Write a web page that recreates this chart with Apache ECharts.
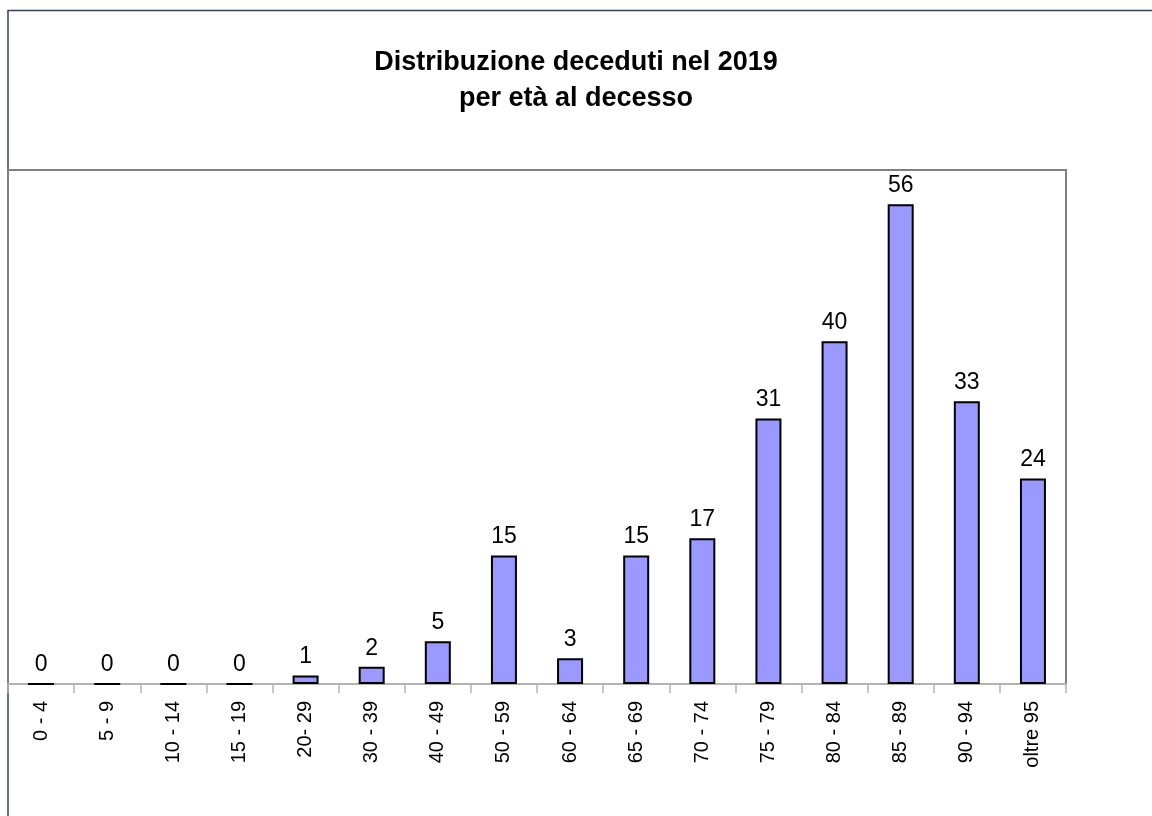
<!DOCTYPE html>
<html>
<head>
<meta charset="utf-8">
<script src="https://cdn.jsdelivr.net/npm/echarts@6/dist/echarts.min.js"></script>
<style>
html,body{margin:0;padding:0;background:#fff;}
#chart{width:1152px;height:816px;}
</style>
</head>
<body>
<div id="chart"></div>
<script>
const categories = ['0 - 4','5 - 9','10 - 14','15 - 19','20- 29','30 - 39','40 - 49','50 - 59','60 - 64','65 - 69','70 - 74','75 - 79','80 - 84','85 - 89','90 - 94','oltre 95'];
const values = [0,0,0,0,1,2,5,15,3,15,17,31,40,56,33,24];
const titleLines = ['Distribuzione deceduti nel 2019','per età al decesso'];

const chart = echarts.init(document.getElementById('chart'), null, {renderer:'canvas'});
chart.setOption({
  animation:false,
  backgroundColor:'#ffffff',
  title:{
    text: titleLines.join('\n'),
    left:'center', top:40,
    textStyle:{fontFamily:'Liberation Sans', fontWeight:'bold', fontSize:27, lineHeight:36, color:'#000'}
  },
  graphic:[{
    type:'rect', z:-1, silent:true,
    shape:{x:8, y:10.5, width:1300, height:1000},
    style:{fill:'none', stroke:'#34435a', lineWidth:1.5}
  }],
  grid:{left:8, right:86, top:170, bottom:132, show:true, borderColor:'#808080', borderWidth:2, backgroundColor:'transparent', containLabel:false},
  xAxis:{
    type:'category', data:categories,
    axisLine:{show:true, lineStyle:{color:'#b3b3b3', width:2}},
    axisTick:{show:true, alignWithLabel:false, length:9, lineStyle:{color:'#b3b3b3', width:1.5}},
    axisLabel:{rotate:90, margin:17, fontFamily:'Liberation Sans', fontSize:20, color:'#000', interval:0}
  },
  yAxis:{
    type:'value', min:0, max:60, interval:10,
    axisLine:{show:false}, axisTick:{show:false}, axisLabel:{show:false}, splitLine:{show:false}
  },
  series:[{
    type:'bar', data:values, barWidth:26,
    itemStyle:{color:'#9999ff', borderColor:'#000', borderWidth:2},
    label:{show:true, position:'top', distance:7, fontFamily:'Liberation Sans', fontSize:23, color:'#000'}
  }]
});
</script>
</body>
</html>
